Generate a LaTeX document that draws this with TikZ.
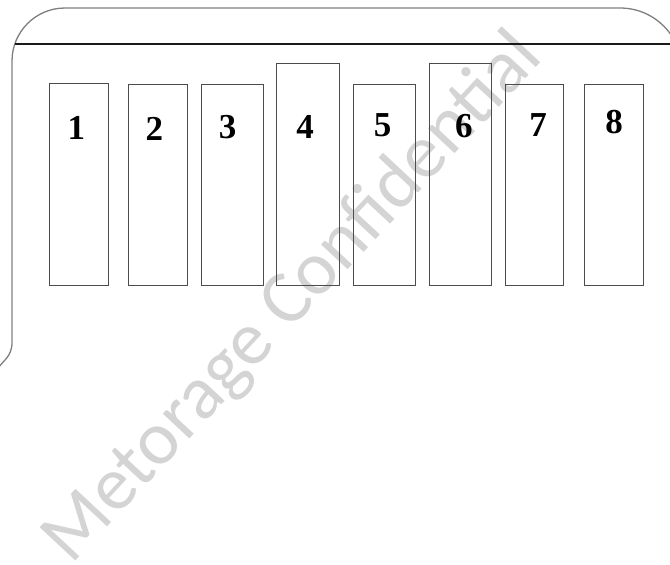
\documentclass[tikz,border=0pt]{standalone}
\usepackage{fontspec}
\setmainfont{Liberation Serif}
\newfontfamily\wmfont{Carlito}
\tikzset{
  outline/.style={draw=black!50, line width=1.3pt},
  divider/.style={draw=black!90, line width=1.1pt},
  slot/.style={draw=black!70, line width=0.9pt},
  num/.style={font=\bfseries\fontsize{35}{35}\selectfont, inner sep=0pt}
}
\begin{document}
\begin{tikzpicture}[x=1pt,y=-1pt]
\useasboundingbox (0,0) rectangle (670,565);
\fill[white] (0,0) rectangle (670,565);
% watermark
\node[rotate=47, text=black!17, font=\wmfont\fontsize{76}{76}\selectfont, anchor=base, inner sep=0pt] (wm) at (308,312) {Metorage Confidential};
% outline
\begin{scope}
\clip (0,0) rectangle (670,565);
\draw[outline] (-10,377) [rounded corners=8] -- (12,352) [sharp corners] -- (12,61)
  arc[start angle=180, end angle=270, radius=53] -- (620,8)
  arc[start angle=270, end angle=360, radius=62] -- (682,120);
\coordinate (dl) at (14.8,44);
\coordinate (dr) at (672,44);
\draw[divider] (dl) -- (dr);
\end{scope}
% slots
\foreach \n/\xa/\xb/\ya in {1/49.3/108/83.5, 2/128.7/187.3/84.3, 3/201.7/263.3/84.3, 4/276.7/339.3/63.3, 5/353.3/415/84.3, 6/429.5/491.5/63.3, 7/505/563.3/84.3, 8/584.3/643/84.3}{
  \path[slot] (\xa,\ya) rectangle (\xb,285.5);
  \coordinate (s\n) at (\xa,\ya);
}
\foreach \n/\x/\y in {1/76.3/128, 2/154.3/129, 3/227.7/127, 4/305/127, 5/382.5/125.5, 6/463.8/126.5, 7/538/125, 8/614.2/122.5}{
  \node[num] (n\n) at (\x,\y) {\n};
}
\end{tikzpicture}
\end{document}
